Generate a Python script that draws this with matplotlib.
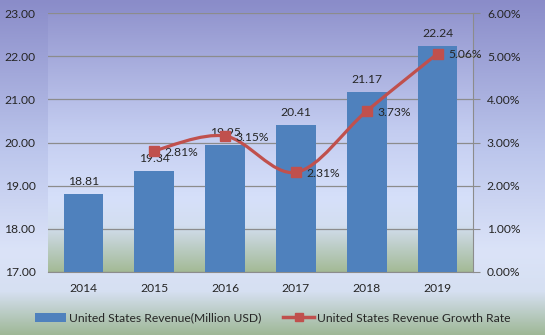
import matplotlib
matplotlib.use('Agg')
import matplotlib.pyplot as plt
import numpy as np
from matplotlib.colors import LinearSegmentedColormap
from matplotlib.path import Path
from matplotlib.patches import PathPatch, Patch
from matplotlib.lines import Line2D

# data
years = ['2014', '2015', '2016', '2017', '2018', '2019']
revenue = [18.81, 19.34, 19.95, 20.41, 21.17, 22.24]
growth_years = ['2015', '2016', '2017', '2018', '2019']
growth = [2.81, 3.15, 2.31, 3.73, 5.06]

plt.rcParams['font.family'] = ['Lato', 'DejaVu Sans']
plt.rcParams['font.size'] = 8.7
txt = '#262626'

fig = plt.figure(figsize=(5.45, 3.35), dpi=100)

# figure background gradient
bg = fig.add_axes([0, 0, 1, 1], zorder=-10)
bg_cmap = LinearSegmentedColormap.from_list('bg', [
    (0.0, '#8a8cc9'), (0.45, '#bcc6ec'), (0.75, '#dbe3f8'),
    (0.87, '#d6e0f2'), (1.0, '#9fb897')])
bg.imshow(np.linspace(0, 1, 256).reshape(-1, 1), aspect='auto', cmap=bg_cmap,
          extent=[0, 1, 0, 1])
bg.axis('off')

ax = fig.add_axes([48 / 545, 1 - 272 / 335, 425 / 545, 259 / 335])
ax.set_facecolor('none')
x = np.arange(len(years))

# plot area gradient
pa_cmap = LinearSegmentedColormap.from_list('pa', [
    (0.0, '#9396cf'), (0.45, '#c3ccf0'), (0.72, '#d6e0fa'),
    (0.82, '#d3def0'), (1.0, '#a3ba96')])
ax.imshow(np.linspace(0, 1, 256).reshape(-1, 1), aspect='auto', cmap=pa_cmap,
          extent=[-0.5, 5.5, 17, 23], zorder=0)

ax.bar(x, [r - 17 for r in revenue], bottom=17, width=0.56, color='#4f81bd', zorder=3)
for xi, r in zip(x, revenue):
    ax.annotate(f'{r:.2f}', (xi, r), xytext=(0, 5), textcoords='offset points',
                ha='center', va='bottom', color=txt, zorder=6)

ax.set_xlim(-0.5, 5.5)
ax.set_ylim(17, 23)
ax.set_yticks(np.arange(17, 23.01, 1))
ax.set_yticklabels([f'{v:.2f}' for v in np.arange(17, 23.01, 1)])
ax.set_xticks(x)
ax.set_xticklabels(years)
ax.yaxis.grid(True, color='#8c8c8c', linewidth=0.9, zorder=1)
ax.set_axisbelow(True)
for s in ['top', 'left', 'right']:
    ax.spines[s].set_visible(False)
ax.spines['bottom'].set_color('#8c8c8c')
ax.tick_params(axis='y', length=0, colors=txt, pad=9)
ax.tick_params(axis='x', length=0, colors=txt, pad=8)

ax2 = ax.twinx()
ax2.set_ylim(0, 6)
ax2.set_yticks(np.arange(0, 6.01, 1))
ax2.set_yticklabels([f'{v:.2f}%' for v in np.arange(0, 6.01, 1)])
for s in ['top', 'left', 'bottom']:
    ax2.spines[s].set_visible(False)
ax2.spines['right'].set_color('#8c8c8c')
ax2.tick_params(axis='y', length=5, color='#8c8c8c', colors=txt, pad=5)

# smoothed line through growth points (Catmull-Rom style bezier)
gx = np.array([years.index(y) for y in growth_years], dtype=float)
gy = np.array(growth)
pts = np.column_stack([gx, gy])
verts = [pts[0]]
codes = [Path.MOVETO]
for i in range(len(pts) - 1):
    p0 = pts[i - 1] if i > 0 else pts[i]
    p1, p2 = pts[i], pts[i + 1]
    p3 = pts[i + 2] if i + 2 < len(pts) else pts[i + 1]
    c1 = p1 + (p2 - p0) / 6
    c2 = p2 - (p3 - p1) / 6
    verts += [c1, c2, p2]
    codes += [Path.CURVE4] * 3
ax2.add_patch(PathPatch(Path(verts, codes), facecolor='none', edgecolor='#c0504d',
                        linewidth=2.3, zorder=4))
ax2.plot(gx, gy, linestyle='none', marker='s', markersize=7, color='#c0504d', zorder=5)
for xi, g in zip(gx, gy):
    ax2.annotate(f'{g:.2f}%', (xi, g), xytext=(7.5, -1), textcoords='offset points',
                 ha='left', va='center', color=txt, zorder=6)

handles = [Patch(facecolor='#4f81bd'),
           Line2D([0], [0], color='#c0504d', linewidth=2.5, marker='s', markersize=6)]
fig.legend(handles, ['United States Revenue(Million USD)', 'United States Revenue Growth Rate'],
           loc='center', bbox_to_anchor=(0.5, 1 - 318 / 335), ncol=2, frameon=False,
           handlelength=2.6, handletextpad=0.2, columnspacing=1.8, labelcolor=txt)

fig.savefig('out.png', dpi=100)
